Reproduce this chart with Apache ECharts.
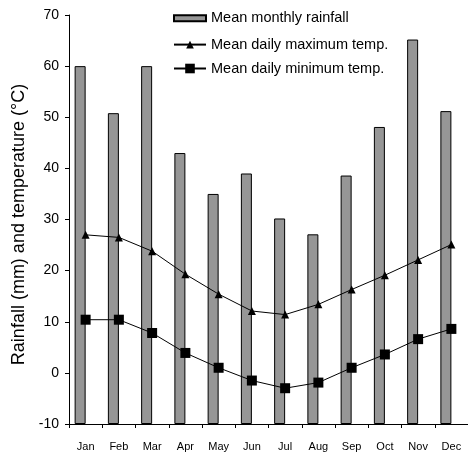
<!DOCTYPE html>
<html>
<head>
<meta charset="utf-8">
<script src="https://cdn.jsdelivr.net/npm/echarts@6/dist/echarts.min.js"></script>
<style>
html,body{margin:0;padding:0;background:#fff;}
#chart{width:468px;height:455px;}
</style>
</head>
<body>
<div id="chart"></div>
<script>
const months = ['Jan','Feb','Mar','Apr','May','Jun','Jul','Aug','Sep','Oct','Nov','Dec'];
const rainfall = [60, 50.8, 60, 43, 35, 39, 30.2, 27.1, 38.6, 48.1, 65.2, 51.2];
const maxTemp = [27, 26.5, 23.8, 19.3, 15.4, 12.1, 11.4, 13.4, 16.3, 19.1, 22.1, 25.1];
const minTemp = [10.4, 10.4, 7.8, 3.9, 1.0, -1.5, -3.0, -1.9, 1.0, 3.6, 6.6, 8.6];
const yTicks = {min: -10, max: 70, interval: 10};

const font = 'Liberation Sans, Arial, sans-serif';
const legendText = {fontFamily: font, fontSize: 14.5, color: '#000', lineHeight: 16};
const legendBase = {orient: 'vertical', left: 173, padding: 0, itemWidth: 32, textStyle: legendText};
const chart = echarts.init(document.getElementById('chart'), null, {renderer: 'canvas'});
chart.setOption({
  animation: false,
  backgroundColor: '#ffffff',
  textStyle: {fontFamily: font},
  grid: {left: 69, top: 15, width: 400, height: 409, containLabel: false},
  legend: [
    Object.assign({}, legendBase, {top: 10.2, itemHeight: 6, data: [{name: 'Mean monthly rainfall', icon: 'rect'}]}),
    Object.assign({}, legendBase, {top: 36.6, itemHeight: 9.5, data: ['Mean daily maximum temp.']}),
    Object.assign({}, legendBase, {top: 60.5, itemHeight: 12, data: ['Mean daily minimum temp.']})
  ],
  xAxis: {
    type: 'category',
    data: months,
    axisLine: {onZero: false, lineStyle: {color: '#000', width: 1}},
    axisTick: {show: true, length: 4, lineStyle: {color: '#000'}},
    axisLabel: {color: '#000', fontSize: 11, fontFamily: font, margin: 17, interval: 0}
  },
  yAxis: {
    type: 'value',
    min: yTicks.min, max: yTicks.max, interval: yTicks.interval,
    startValue: yTicks.min,
    name: 'Rainfall (mm) and temperature (°C)',
    nameLocation: 'middle',
    nameGap: 26,
    nameTextStyle: {fontSize: 18, color: '#000', fontFamily: font, padding: [0, 10, 0, 0]},
    splitLine: {show: false},
    axisLine: {show: true, lineStyle: {color: '#000', width: 1}},
    axisTick: {show: true, length: 4, lineStyle: {color: '#000'}},
    axisLabel: {color: '#000', fontSize: 14, fontFamily: font, margin: 10}
  },
  series: [
    {
      name: 'Mean monthly rainfall',
      type: 'bar',
      data: rainfall,
      barWidth: 11,
      barGap: '0%',
      itemStyle: {color: '#969696', borderColor: '#000', borderWidth: 1}
    },
    {
      name: '_spacer',
      type: 'bar',
      data: months.map(() => null),
      barWidth: 11,
      silent: true,
      itemStyle: {color: 'transparent'}
    },
    {
      name: 'Mean daily maximum temp.',
      type: 'line',
      data: maxTemp,
      symbol: 'triangle',
      symbolSize: 8,
      z: 5,
      lineStyle: {color: '#000', width: 1},
      itemStyle: {color: '#000'}
    },
    {
      name: 'Mean daily minimum temp.',
      type: 'line',
      data: minTemp,
      symbol: 'rect',
      symbolSize: 10,
      z: 5,
      lineStyle: {color: '#000', width: 1},
      itemStyle: {color: '#000'}
    }
  ]
});
</script>
</body>
</html>
